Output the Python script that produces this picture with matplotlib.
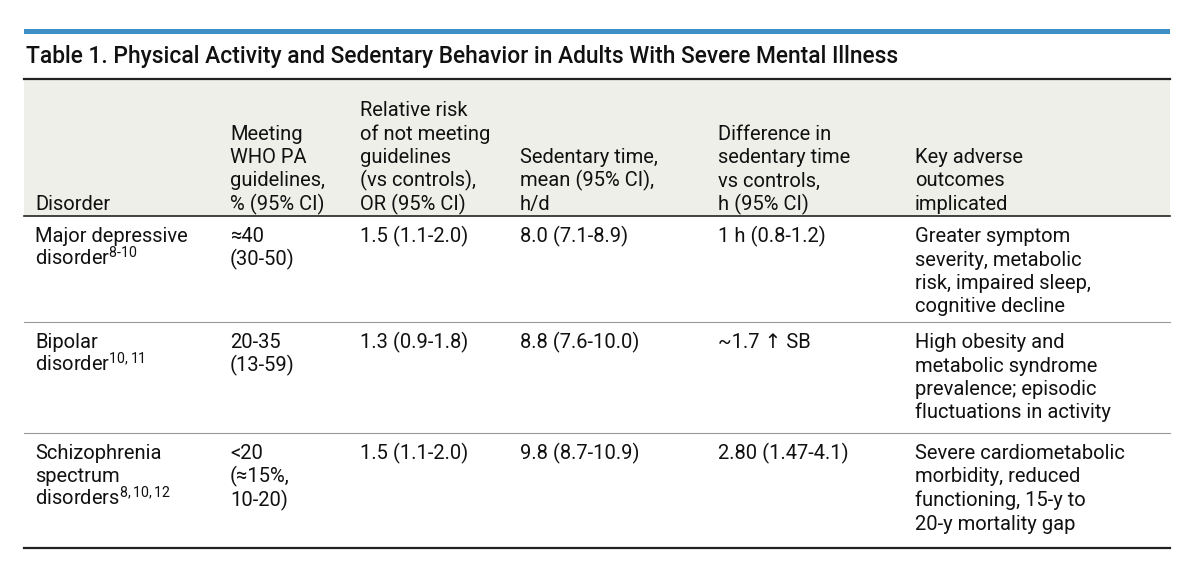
import matplotlib
matplotlib.use("Agg")
import matplotlib.pyplot as plt
from matplotlib.patches import Rectangle

plt.rcParams['font.family'] = ['Roboto', 'DejaVu Sans']
plt.rcParams['mathtext.fontset'] = 'custom'
plt.rcParams['mathtext.rm'] = 'Roboto'
plt.rcParams['mathtext.it'] = 'Roboto'

title = "Table 1. Physical Activity and Sedentary Behavior in Adults With Severe Mental Illness"
headers = [
    ["Disorder"],
    ["Meeting", "WHO PA", "guidelines,", "% (95% CI)"],
    ["Relative risk", "of not meeting", "guidelines", "(vs controls),", "OR (95% CI)"],
    ["Sedentary time,", "mean (95% CI),", "h/d"],
    ["Difference in", "sedentary time", "vs controls,", "h (95% CI)"],
    ["Key adverse", "outcomes", "implicated"],
]
rows = [
    [["Major depressive", r"disorder$^{8\text{-}10}$"], ["≈40", "(30-50)"], ["1.5 (1.1-2.0)"],
     ["8.0 (7.1-8.9)"], ["1 h (0.8-1.2)"],
     ["Greater symptom", "severity, metabolic", "risk, impaired sleep,", "cognitive decline"]],
    [["Bipolar", r"disorder$^{10,11}$"], ["20-35", "(13-59)"], ["1.3 (0.9-1.8)"],
     ["8.8 (7.6-10.0)"], ["~1.7 ↑ SB"],
     ["High obesity and", "metabolic syndrome", "prevalence; episodic", "fluctuations in activity"]],
    [["Schizophrenia", "spectrum", r"disorders$^{8,10,12}$"], ["<20", "(≈15%,", "10-20)"], ["1.5 (1.1-2.0)"],
     ["9.8 (8.7-10.9)"], ["2.80 (1.47-4.1)"],
     ["Severe cardiometabolic", "morbidity, reduced", "functioning, 15-y to", "20-y mortality gap"]],
]

col_x = [35, 230, 360, 520, 718, 915]
row_top = [216, 322, 433]
row_bot = [322, 433, 548]
lh = 23.5
fs = 14.5

fig = plt.figure(figsize=(12, 5.62), dpi=100)
ax = fig.add_axes([0, 0, 1, 1])
ax.set_xlim(0, 1200); ax.set_ylim(562, 0); ax.axis('off')

ax.add_patch(Rectangle((24, 29), 1146, 5, color='#3d8fc6', lw=0))
ax.text(26, 56, title, fontsize=16.4, fontweight='medium', va='center', color='#111111')
ax.add_patch(Rectangle((24, 79), 1146, 137, color='#efefea', lw=0))
ax.plot([24, 1170], [79, 79], color='#222222', lw=1.6)
ax.plot([24, 1170], [216, 216], color='#222222', lw=1.2)
for y in row_bot[:-1]:
    ax.plot([24, 1170], [y, y], color='#999999', lw=0.8)
ax.plot([24, 1170], [row_bot[-1], row_bot[-1]], color='#222222', lw=1.6)

for x, h in zip(col_x, headers):
    n = len(h)
    for i, line in enumerate(h):
        ax.text(x, 210 - (n - 1 - i) * lh, line, fontsize=fs, va='baseline', color='#111111')

for r, top in zip(rows, row_top):
    for x, cell in zip(col_x, r):
        for i, line in enumerate(cell):
            ax.text(x, top + 26 + i * lh, line, fontsize=fs, va='baseline', color='#111111')

fig.savefig("out.png", dpi=100, facecolor='white')
